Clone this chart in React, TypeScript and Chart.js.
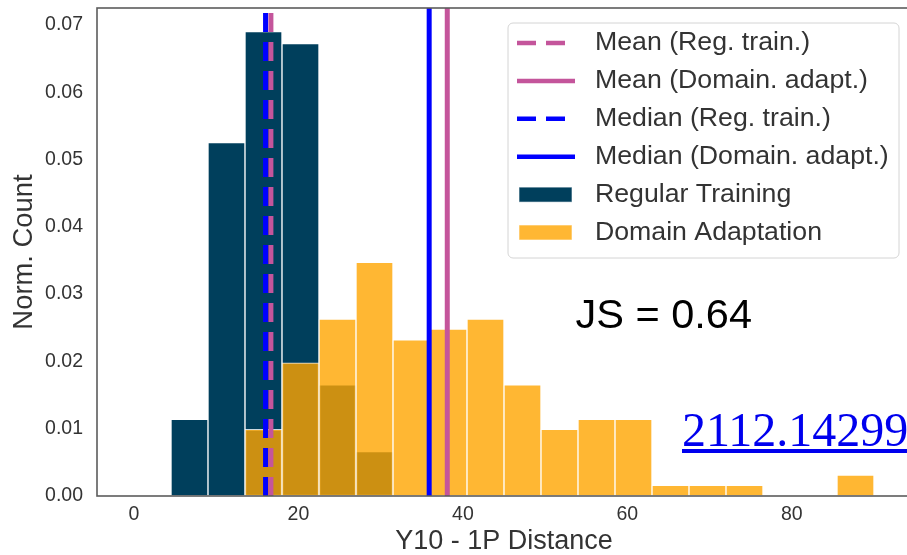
import React, { useEffect, useRef } from 'react';
import { Chart, registerables } from 'chart.js';

Chart.register(...registerables);

// ---- data ----
const binCenters = [2.25, 6.75, 11.25, 15.75, 20.25, 24.75, 29.25, 33.75, 38.25, 42.75, 47.25, 51.75, 56.25, 60.75, 65.25, 69.75, 74.25, 78.75, 83.25, 87.75];
const regularTraining = [0, 0.0114, 0.0525, 0.069, 0.0672, 0.0165, 0.0066, 0, 0, 0, 0, 0, 0, 0, 0, 0, 0, 0, 0, 0];
const domainAdaptation = [0, 0, 0, 0.0099, 0.0198, 0.0263, 0.0347, 0.0232, 0.0248, 0.0263, 0.0165, 0.0099, 0.0114, 0.0114, 0.0016, 0.0016, 0.0016, 0, 0, 0.0031];
const meanRegTrain = 16.65;
const meanDomainAdapt = 38.1;
const medianRegTrain = 16.0;
const medianDomainAdapt = 35.9;
const xTicks = [0, 20, 40, 60, 80];
const xTickLabels = ['0', '20', '40', '60', '80'];
const yTicks = [0, 0.01, 0.02, 0.03, 0.04, 0.05, 0.06, 0.07];
const yTickLabels = ['0.00', '0.01', '0.02', '0.03', '0.04', '0.05', '0.06', '0.07'];
const jsLabel = 'JS = 0.64';
const jsAnchor = { x: 53.7, y: 0.0249 };
const arxivId = '2112.14299';

const X_MIN = -4.5;
const X_MAX = 94.5;
const Y_MAX = 0.0725;

const MAGENTA = '#c4559b';
const BLUE = '#0000ff';
const NAVY = '#003f5c';
const ORANGE = 'rgba(255,165,0,0.8)';
const TEXT = '#333333';
const FONT = '"Liberation Sans", Arial, sans-serif';

const vline = (x: number) => [{ x, y: 0 }, { x, y: Y_MAX }];

const framePlugin = {
  id: 'frame',
  afterDatasetsDraw(chart: any) {
    const { ctx, chartArea: a } = chart;
    ctx.save();
    ctx.strokeStyle = '#5c5c5c';
    ctx.lineWidth = 1.6;
    ctx.strokeRect(a.left, a.top, a.right - a.left, a.bottom - a.top);
    ctx.restore();
  },
};

const jsTextPlugin = {
  id: 'jsText',
  afterDraw(chart: any) {
    const { ctx } = chart;
    const xs = chart.scales.x;
    const ys = chart.scales.y;
    ctx.save();
    ctx.fillStyle = '#000';
    ctx.font = `41.5px ${FONT}`;
    ctx.textAlign = 'left';
    ctx.textBaseline = 'alphabetic';
    ctx.fillText(jsLabel, xs.getPixelForValue(jsAnchor.x), ys.getPixelForValue(jsAnchor.y));
    ctx.restore();
  },
};

const boxLegendPlugin = {
  id: 'boxLegend',
  afterDraw(chart: any) {
    const { ctx, chartArea: a } = chart;
    const w = 391;
    const h = 235;
    const x0 = a.right - 12 - w;
    const y0 = a.top + 15;
    ctx.save();
    ctx.beginPath();
    ctx.roundRect(x0, y0, w, h, 5);
    ctx.fillStyle = 'rgba(255,255,255,0.8)';
    ctx.fill();
    ctx.strokeStyle = '#d4d4d4';
    ctx.lineWidth = 1;
    ctx.stroke();
    const ds = chart.data.datasets;
    ds.forEach((d: any, i: number) => {
      const cy = y0 + 20 + i * 37.9;
      const hx = x0 + 10;
      if (d.type === 'line') {
        ctx.beginPath();
        ctx.setLineDash(d.borderDash || []);
        ctx.lineWidth = 4.5;
        ctx.lineCap = 'butt';
        ctx.strokeStyle = d.borderColor;
        ctx.moveTo(hx - 1, cy);
        ctx.lineTo(hx + 57, cy);
        ctx.stroke();
      } else {
        ctx.setLineDash([]);
        ctx.fillStyle = d.backgroundColor;
        ctx.fillRect(hx + 1, cy - 7.5, 53, 15);
        ctx.strokeStyle = 'rgba(255,255,255,0.6)';
        ctx.lineWidth = 1;
        ctx.strokeRect(hx + 1, cy - 7.5, 53, 15);
      }
      ctx.setLineDash([]);
      ctx.fillStyle = TEXT;
      ctx.font = `26.7px ${FONT}`;
      ctx.textAlign = 'left';
      ctx.textBaseline = 'middle';
      ctx.fillText(d.label, x0 + 87, cy);
    });
    ctx.restore();
  },
};

export default function App() {
  const ref = useRef<HTMLCanvasElement | null>(null);

  useEffect(() => {
    if (!ref.current) return;
    Chart.defaults.font.family = FONT;
    const barPts = (vals: number[]) => binCenters.map((x, i) => ({ x, y: vals[i] }));
    const lineDs = (label: string, x: number, color: string, dashed: boolean, order: number) => ({
      type: 'line' as const,
      label,
      data: vline(x),
      borderColor: color,
      backgroundColor: color,
      borderWidth: 5,
      borderDash: dashed ? [19, 10] : [],
      borderCapStyle: 'butt',
      pointRadius: 0,
      fill: false,
      tension: 0,
      order,
    });
    const chart = new Chart(ref.current, {
      type: 'bar',
      data: {
        datasets: [
          lineDs('Mean (Reg. train.)', meanRegTrain, MAGENTA, true, 4),
          lineDs('Mean (Domain. adapt.)', meanDomainAdapt, MAGENTA, false, 3),
          lineDs('Median (Reg. train.)', medianRegTrain, BLUE, true, 2),
          lineDs('Median (Domain. adapt.)', medianDomainAdapt, BLUE, false, 1),
          {
            type: 'bar' as const,
            label: 'Regular Training',
            data: barPts(regularTraining),
            backgroundColor: NAVY,
            borderColor: 'rgba(255,255,255,0.85)',
            borderWidth: 1,
            borderSkipped: false,
            grouped: false,
            barPercentage: 1,
            categoryPercentage: 1,
            order: 6,
          },
          {
            type: 'bar' as const,
            label: 'Domain Adaptation',
            data: barPts(domainAdaptation),
            backgroundColor: ORANGE,
            borderColor: 'rgba(255,255,255,0.8)',
            borderWidth: 1,
            borderSkipped: false,
            grouped: false,
            barPercentage: 1,
            categoryPercentage: 1,
            order: 5,
          },
        ] as any,
      },
      options: {
        animation: false,
        responsive: false,
        devicePixelRatio: 1,
        layout: { padding: { left: 0, top: 8, right: 14, bottom: 0 } },
        plugins: { legend: { display: false }, tooltip: { enabled: false } },
        scales: {
          x: {
            type: 'linear',
            min: X_MIN,
            max: X_MAX,
            offset: false,
            grid: { display: false, drawTicks: false },
            border: { display: false },
            afterBuildTicks: (s: any) => { s.ticks = xTicks.map((v) => ({ value: v })); },
            afterFit: (s: any) => { s.height = 59; s.paddingLeft = 0; s.paddingRight = 0; },
            ticks: {
              autoSkip: false,
              maxRotation: 0,
              padding: 7,
              color: TEXT,
              font: { size: 19.5, family: FONT },
              callback: (_v: any, i: number) => xTickLabels[i],
            },
            title: {
              display: true,
              text: 'Y10 - 1P Distance',
              color: TEXT,
              font: { size: 27, family: FONT, lineHeight: 1 },
              padding: { top: 0, bottom: 0 },
            },
          },
          y: {
            type: 'linear',
            min: 0,
            max: Y_MAX,
            grid: { display: false, drawTicks: false },
            border: { display: false },
            afterBuildTicks: (s: any) => { s.ticks = yTicks.map((v) => ({ value: v })); },
            afterFit: (s: any) => { s.width = 97; s.paddingTop = 0; s.paddingBottom = 0; },
            ticks: {
              autoSkip: false,
              padding: 14,
              color: TEXT,
              font: { size: 19.5, family: FONT },
              callback: (_v: any, i: number) => yTickLabels[i],
            },
            title: {
              display: true,
              text: 'Norm. Count',
              color: TEXT,
              font: { size: 27.4, family: FONT, lineHeight: 1 },
              padding: { top: 10.5, bottom: 0 },
            },
          },
        },
      } as any,
      plugins: [framePlugin, jsTextPlugin, boxLegendPlugin],
    });
    return () => chart.destroy();
  }, []);

  return (
    <div style={{ position: 'absolute', left: 0, top: 0, width: 907, height: 555, overflow: 'hidden', background: '#fff' }}>
      <canvas ref={ref} width={925} height={555} style={{ display: 'block', width: 925, height: 555 }} />
      <a
        href={`https://arxiv.org/abs/${arxivId}`}
        style={{
          position: 'absolute',
          left: 682,
          top: 406,
          fontSize: 48,
          lineHeight: '48px',
          fontFamily: '"Liberation Serif", "Times New Roman", serif',
          whiteSpace: 'nowrap',
        }}
      >
        {arxivId}
      </a>
    </div>
  );
}
